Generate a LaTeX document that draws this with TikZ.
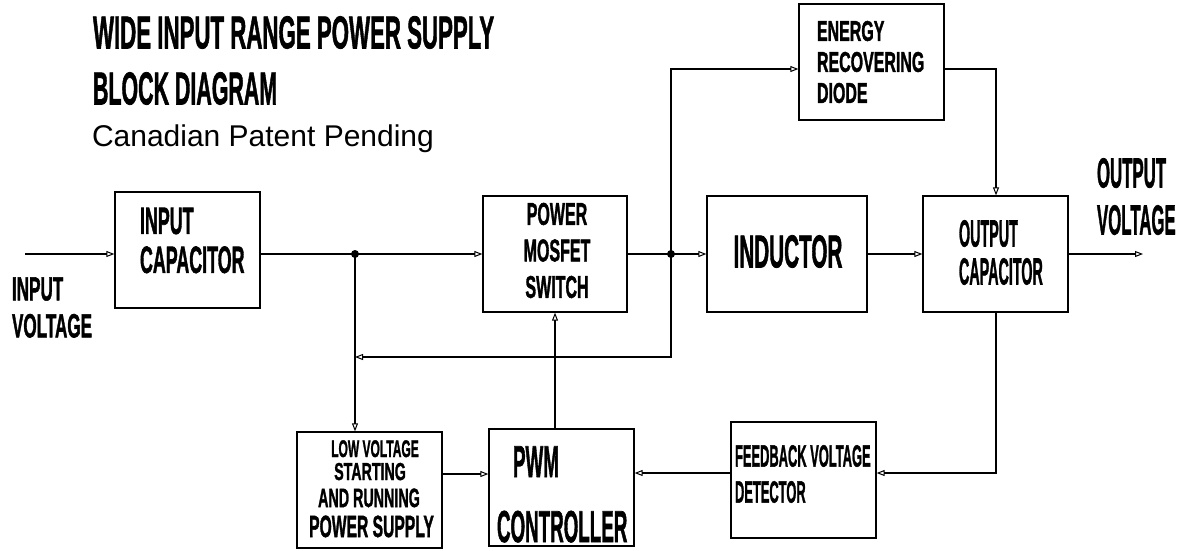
\documentclass[tikz,border=0pt]{standalone}
\usepackage{fontspec}
\usepackage{graphicx}
\setmainfont{Liberation Sans}[BoldFeatures={FakeBold=1.8}]
\usetikzlibrary{arrows.meta}
\newcommand\sq[2]{\scalebox{#1}[1]{#2}}
\begin{document}
\begin{tikzpicture}[x=1pt,y=-1pt,
  box/.style={draw,line width=1.3pt,inner sep=0pt,minimum width=145pt,minimum height=116pt},
  txt/.style={inner sep=0pt,outer sep=0pt},
  ln/.style={line width=1.3pt},
  arr/.style={line width=1.3pt,-{Triangle[open,length=8pt,width=6pt,line width=1pt]}},
  dot/.style={fill=black}]
\useasboundingbox (0,0) rectangle (1185,550);
% boxes
\node[box] (incap) at (187.5,250) {};
\node[box,minimum width=144pt] (mos) at (555,254) {};
\node[box,minimum width=160pt] (ind) at (787,254) {};
\node[box] (ocap) at (995.5,254) {};
\node[box] (diode) at (871.5,62) {};
\node[box] (lv) at (369.5,490) {};
\node[box,minimum height=117pt] (pwm) at (561.5,487.5) {};
\node[box] (fb) at (803.5,480) {};
% texts
\node[txt,anchor=west,align=left,font=\bfseries\fontsize{46}{56}\selectfont] (title) at (93,60.5)
  {\sq{0.484}{WIDE INPUT RANGE POWER SUPPLY}\\\sq{0.465}{BLOCK DIAGRAM}};
\node[txt,anchor=base west,font=\fontsize{30}{36}\selectfont] (patent) at (92,146) {Canadian Patent Pending};
\node[txt,anchor=west,align=left,font=\bfseries\fontsize{38}{39}\selectfont] (incapt) at (140,240.5)
  {\sq{0.47}{INPUT}\\\sq{0.47}{CAPACITOR}};
\node[txt,anchor=west,align=left,font=\bfseries\fontsize{33.5}{37}\selectfont] (inv) at (12,307.5)
  {\sq{0.51}{INPUT}\\\sq{0.51}{VOLTAGE}};
\node[txt,anchor=center,align=center,font=\bfseries\fontsize{31.4}{36.5}\selectfont] (most) at (557,250.5)
  {\sq{0.51}{POWER}\\\sq{0.51}{MOSFET}\\\sq{0.51}{SWITCH}};
\node[txt,anchor=center,font=\bfseries\fontsize{46}{50}\selectfont] (indt) at (788,251.5) {\sq{0.45}{INDUCTOR}};
\node[txt,anchor=west,align=left,font=\bfseries\fontsize{28.5}{31}\selectfont] (diodet) at (817,62)
  {\sq{0.56}{ENERGY}\\\sq{0.56}{RECOVERING}\\\sq{0.56}{DIODE}};
\node[txt,anchor=west,align=left,font=\bfseries\fontsize{37.7}{38}\selectfont] (ocapt) at (959,252.5)
  {\sq{0.38}{OUTPUT}\\\sq{0.38}{CAPACITOR}};
\node[txt,anchor=west,align=left,font=\bfseries\fontsize{42}{47}\selectfont] (outv) at (1097,196.5)
  {\sq{0.40}{OUTPUT}\\\sq{0.40}{VOLTAGE}};
\node[txt,anchor=base,font=\bfseries\fontsize{24}{28}\selectfont] (lv1) at (375,457) {\sq{0.50}{LOW VOLTAGE}};
\node[txt,anchor=base,font=\bfseries\fontsize{24.5}{28}\selectfont] (lv2) at (370,480) {\sq{0.58}{STARTING}};
\node[txt,anchor=base,font=\bfseries\fontsize{26.5}{30}\selectfont] (lv3) at (369,507) {\sq{0.54}{AND RUNNING}};
\node[txt,anchor=base,font=\bfseries\fontsize{30.7}{34}\selectfont] (lv4) at (371.5,537) {\sq{0.51}{POWER SUPPLY}};
\node[txt,anchor=base west,font=\bfseries\fontsize{44.7}{48}\selectfont] (pwm1) at (513,477) {\sq{0.42}{PWM}};
\node[txt,anchor=base west,font=\bfseries\fontsize{44.7}{48}\selectfont] (pwm2) at (497,542) {\sq{0.42}{CONTROLLER}};
\node[txt,anchor=west,align=left,font=\bfseries\fontsize{30.7}{36}\selectfont] (fbt) at (735,474)
  {\sq{0.42}{FEEDBACK VOLTAGE}\\\sq{0.42}{DETECTOR}};
% coordinates
\coordinate (in) at (25,254);
\coordinate (j1) at (355,254);
\coordinate (j2) at (671,254);
\coordinate (dtop) at (671,69);
\coordinate (dout) at (996,69);
\coordinate (out) at (1143,254);
\coordinate (fbc) at (996,473);
\coordinate (cx) at (555,0);
\coordinate (fbk) at (671,357);
\coordinate (fbk2) at (355,357);
\coordinate (lvc) at (0,474);
% connectors
\draw[arr] (in) -- (in -| incap.west);
\draw[ln] (incap.east |- j1) -- (j1);
\draw[arr] (j1) -- (j1 -| mos.west);
\draw[ln] (mos.east |- j2) -- (j2);
\draw[arr] (j2) -- (j2 -| ind.west);
\draw[arr] (j2) -- (dtop) -- (dtop -| diode.west);
\draw[arr] (dout -| diode.east) -- (dout) -- (dout |- ocap.north);
\draw[arr] (ind.east |- j2) -- (j2 -| ocap.west);
\draw[arr] (ocap.east |- out) -- (out);
\draw[arr] (fbc |- ocap.south) -- (fbc) -- (fbc -| fb.east);
\draw[arr] (fb.west |- fbc) -- (fbc -| pwm.east);
\draw[arr] (cx |- pwm.north) -- (cx |- mos.south);
\draw[arr] (j2) -- (fbk) -- (fbk2);
\draw[arr] (j1) -- (j1 |- lv.north);
\draw[arr] (lv.east |- lvc) -- (lvc -| pwm.west);
\fill[dot] (j1) circle[radius=4pt];
\fill[dot] (j2) circle[radius=4pt];
\end{tikzpicture}
\end{document}
